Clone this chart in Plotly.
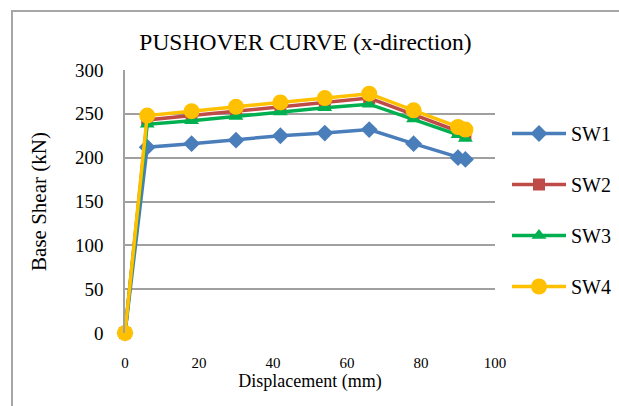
import plotly.graph_objects as go

displacement = [0, 6, 18, 30, 42, 54, 66, 78, 90, 92]
sw1 = [0, 212, 216, 220, 225, 228, 232, 216, 200, 198]
sw2 = [0, 243, 248, 253, 258, 263, 268, 249, 230, 227]
sw3 = [0, 238, 242, 247, 252, 257, 261, 244, 226, 222]
sw4 = [0, 248, 253, 258, 263, 268, 273, 254, 235, 232]
series_names = ["SW1", "SW2", "SW3", "SW4"]
x_ticks = [0, 20, 40, 60, 80, 100]
y_ticks = [0, 50, 100, 150, 200, 250, 300]

colors = ["#4A7EBB", "#BE4B48", "#00B050", "#FFC000"]
symbols = ["diamond", "square", "triangle-up", "circle"]
sizes = [13, 12, 13, 16]

FONT = "'Liberation Serif', 'Times New Roman', Times, serif"
W, H = 619, 406
L, R, T, B = 125, 124, 70, 73
pw, ph = W - L - R, H - T - B

fig = go.Figure()
for i, (name, ys) in enumerate(zip(series_names, [sw1, sw2, sw3, sw4])):
    fig.add_trace(go.Scatter(
        x=displacement, y=ys, name=name, mode="lines+markers",
        line=dict(color=colors[i], width=3.5),
        marker=dict(symbol=symbols[i], size=sizes[i], color=colors[i]),
        cliponaxis=False, legendgroup=name,
    ))

def px_x(p):
    return (p - L) / pw

def px_y(p):
    return (H - B - p) / ph

fig.update_layout(
    width=W, height=H,
    margin=dict(l=L, r=R, t=T, b=B, autoexpand=False),
    paper_bgcolor="white", plot_bgcolor="white",
    font=dict(family=FONT, color="black"),
    title=dict(text="PUSHOVER CURVE (x-direction)", x=305.5 / W, xanchor="center",
               y=1 - 42 / H, yanchor="middle", xref="container", yref="container",
               font=dict(size=23.5, family=FONT, color="black")),
    showlegend=True,
    legend=dict(x=px_x(507), y=px_y(114), xanchor="left", yanchor="top",
                font=dict(size=20, family=FONT, color="black"),
                itemwidth=54, tracegroupgap=22, traceorder="grouped",
                bgcolor="rgba(0,0,0,0)"),
    shapes=[
        dict(type="line", xref="paper", yref="paper", x0=px_x(12), x1=px_x(12),
             y0=px_y(420), y1=px_y(11), line=dict(color="#A6A6A6", width=2)),
        dict(type="line", xref="paper", yref="paper", x0=px_x(11), x1=px_x(640),
             y0=px_y(11), y1=px_y(11), line=dict(color="#A6A6A6", width=2)),
    ],
)
fig.update_xaxes(
    range=[0, 100], tickvals=x_ticks, showgrid=False, zeroline=False,
    showline=False, ticks="", ticklabelstandoff=19,
    tickfont=dict(size=15, family=FONT, color="black"),
    title=dict(text="Displacement (mm)", standoff=0, font=dict(size=18, family=FONT, color="black")),
)
fig.update_yaxes(
    range=[0, 300], tickvals=y_ticks, showgrid=True, gridcolor="#A0A0A0", gridwidth=1.5,
    zeroline=False, showline=True, linecolor="#A0A0A0", linewidth=1.5,
    ticks="", ticklabelstandoff=16,
    tickfont=dict(size=19, family=FONT, color="black"),
    title=dict(text="Base Shear (kN)", standoff=23, font=dict(size=21, family=FONT, color="black")),
)

fig.write_html("out.html")
